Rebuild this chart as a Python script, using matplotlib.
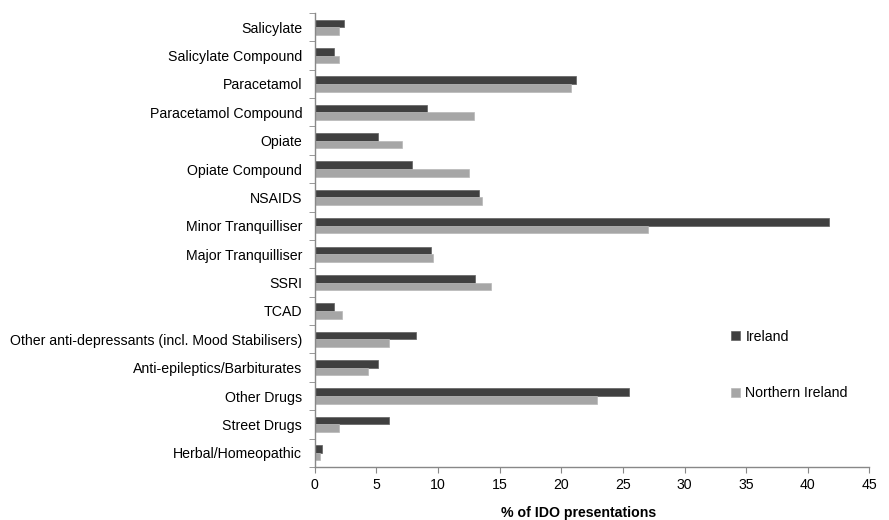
import numpy as np
import matplotlib
matplotlib.use("Agg")
import matplotlib.pyplot as plt
from matplotlib.ticker import FixedLocator

plt.rcParams['font.family'] = ['Liberation Sans', 'DejaVu Sans']

# ---------------------------
# DATA
# ---------------------------
categories = [
    "Salicylate", "Salicylate Compound", "Paracetamol", "Paracetamol Compound",
    "Opiate", "Opiate Compound", "NSAIDS", "Minor Tranquilliser",
    "Major Tranquilliser", "SSRI", "TCAD",
    "Other anti-depressants (incl. Mood Stabilisers)",
    "Anti-epileptics/Barbiturates", "Other Drugs", "Street Drugs",
    "Herbal/Homeopathic",
]
ireland = [2.4, 1.6, 21.2, 9.1, 5.1, 7.9, 13.3, 41.7, 9.4, 13.0, 1.6, 8.2, 5.1, 25.5, 6.0, 0.6]
northern_ireland = [2.0, 2.0, 20.8, 12.9, 7.1, 12.5, 13.6, 27.0, 9.6, 14.3, 2.2, 6.0, 4.3, 22.9, 2.0, 0.4]

FS = 10.2

# ---------------------------
# PLOT
# ---------------------------
fig = plt.figure(figsize=(8.89, 5.2), dpi=100)
ax = fig.add_axes([0.354, 0.102, 0.624, 0.873])

y = np.arange(len(categories))
h = 0.27
ax.barh(y - h / 2, ireland, height=h, color="#404040", edgecolor="#606060", linewidth=0.5, label="Ireland")
ax.barh(y + h / 2, northern_ireland, height=h, color="#a6a6a6", edgecolor="#b8b8b8", linewidth=0.5, label="Northern Ireland")

ax.set_ylim(len(categories) - 0.5, -0.5)
ax.set_xlim(0, 45)
ax.set_xticks(np.arange(0, 46, 5))

ax.set_yticks(y)
ax.set_yticklabels(categories, fontsize=FS)
ax.tick_params(axis="y", length=0, pad=9)
ax.yaxis.set_minor_locator(FixedLocator(np.arange(-0.5, len(categories), 1)))
ax.tick_params(axis="y", which="minor", length=4, color="#888888", direction="out")
ax.tick_params(axis="x", length=4, color="#888888", direction="out", labelsize=FS, pad=4)

for s in ["top", "right"]:
    ax.spines[s].set_visible(False)
for s in ["left", "bottom"]:
    ax.spines[s].set_color("#888888")
    ax.spines[s].set_linewidth(1)

ax.set_xlabel("% of IDO presentations", fontsize=FS, fontweight="bold")
ax.xaxis.set_label_coords(0.475, -0.085)

ax.legend(loc="center left", bbox_to_anchor=(0.728, 0.225), frameon=False,
          fontsize=FS, handlelength=0.6, handleheight=0.6, handletextpad=0.4,
          labelspacing=3.0)

plt.savefig("out.png", dpi=100)
